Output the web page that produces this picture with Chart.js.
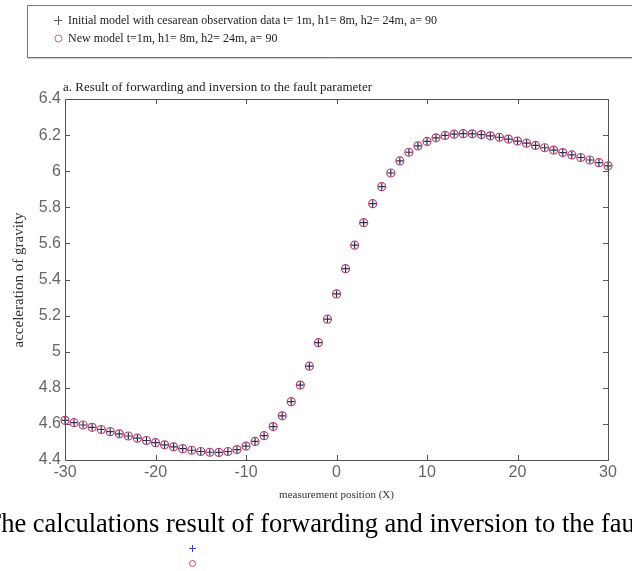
<!DOCTYPE html>
<html>
<head>
<meta charset="utf-8">
<script src="https://cdn.jsdelivr.net/npm/chart.js@4.4.1/dist/chart.umd.min.js"></script>
<style>
html,body{margin:0;padding:0;background:#fff;}
#wrap{position:relative;width:632px;height:571px;}
</style>
</head>
<body>
<div id="wrap"><canvas id="c" width="632" height="571"></canvas></div>
<script>
const positions = [-30,-29,-28,-27,-26,-25,-24,-23,-22,-21,-20,-19,-18,-17,-16,-15,-14,-13,-12,-11,-10,-9,-8,-7,-6,-5,-4,-3,-2,-1,0,1,2,3,4,5,6,7,8,9,10,11,12,13,14,15,16,17,18,19,20,21,22,23,24,25,26,27,28,29,30];
const initialModel = [4.620,4.607,4.594,4.581,4.569,4.557,4.545,4.533,4.521,4.508,4.496,4.484,4.473,4.463,4.454,4.447,4.443,4.442,4.447,4.458,4.477,4.503,4.535,4.585,4.645,4.723,4.815,4.920,5.050,5.180,5.320,5.460,5.590,5.715,5.820,5.914,5.990,6.057,6.105,6.140,6.165,6.185,6.198,6.205,6.208,6.207,6.203,6.196,6.188,6.178,6.167,6.155,6.143,6.130,6.117,6.103,6.090,6.076,6.062,6.047,6.030];
const newModel = [4.620,4.607,4.594,4.581,4.569,4.557,4.545,4.533,4.521,4.508,4.496,4.484,4.473,4.463,4.454,4.447,4.443,4.442,4.447,4.458,4.477,4.503,4.535,4.585,4.645,4.723,4.815,4.920,5.050,5.180,5.320,5.460,5.590,5.715,5.820,5.914,5.990,6.057,6.105,6.140,6.165,6.185,6.198,6.205,6.208,6.207,6.203,6.196,6.188,6.178,6.167,6.155,6.143,6.130,6.117,6.103,6.090,6.076,6.062,6.047,6.030];
const xTicks = [-30,-20,-10,0,10,20,30];
const yTicks = [4.4,4.6,4.8,5,5.2,5.4,5.6,5.8,6,6.2,6.4];
const seriesLabels = ["Initial model with cesarean observation data t= 1m, h1= 8m, h2= 24m, a= 90","New model t=1m, h1= 8m, h2= 24m, a= 90"];
const chartTitle = "a. Result of forwarding and inversion to the fault parameter";
const xTitle = "measurement position (X)";
const yTitle = "acceleration of gravity";
const caption = "The calculations result of forwarding and inversion to the fault parameter";

const crossColor = '#2e2e55';
const circleColor = '#b0406e';

const decor = {
  id: 'decor',
  afterDraw(chart) {
    const ctx = chart.ctx;
    const a = chart.chartArea;
    const xs = chart.scales.x, ys = chart.scales.y;
    ctx.save();
    ctx.strokeStyle = '#555';
    ctx.lineWidth = 1;
    ctx.strokeRect(Math.round(a.left)+0.5, Math.round(a.top)+0.5, Math.round(a.right-a.left), Math.round(a.bottom-a.top));
    ctx.beginPath();
    xTicks.forEach(v => {
      const px = Math.round(xs.getPixelForValue(v))+0.5;
      ctx.moveTo(px, a.bottom); ctx.lineTo(px, a.bottom-5);
      ctx.moveTo(px, a.top); ctx.lineTo(px, a.top+5);
    });
    yTicks.forEach(v => {
      const py = Math.round(ys.getPixelForValue(v))+0.5;
      ctx.moveTo(a.left, py); ctx.lineTo(a.left+5, py);
      ctx.moveTo(a.right, py); ctx.lineTo(a.right-5, py);
    });
    ctx.stroke();
    // title
    ctx.fillStyle = '#222';
    ctx.font = '13px "Liberation Serif"';
    ctx.textBaseline = 'alphabetic';
    ctx.textAlign = 'left';
    ctx.fillText(chartTitle, a.left - 2, a.top - 8);
    // x title
    ctx.font = '11px "Liberation Serif"';
    ctx.fillStyle = '#333';
    ctx.textAlign = 'center';
    ctx.fillText(xTitle, (a.left + a.right)/2, 498);
    // y title
    ctx.save();
    ctx.translate(18, 280);
    ctx.rotate(-Math.PI/2);
    ctx.font = '15px "Liberation Serif"';
    ctx.fillText(yTitle, 0, 5);
    ctx.restore();
    // legend box
    ctx.strokeStyle = '#777';
    ctx.lineWidth = 1;
    ctx.strokeRect(27.5, 5.5, 640, 52);
    ctx.strokeStyle = '#ccc';
    ctx.beginPath(); ctx.moveTo(28, 58.5); ctx.lineTo(640, 58.5); ctx.stroke();
    ctx.textAlign = 'left';
    ctx.font = '12px "Liberation Serif"';
    ctx.fillStyle = '#222';
    ctx.strokeStyle = '#556';
    ctx.beginPath();
    ctx.moveTo(54, 20.5); ctx.lineTo(62, 20.5);
    ctx.moveTo(58.5, 16); ctx.lineTo(58.5, 25);
    ctx.stroke();
    ctx.strokeStyle = '#c06080';
    ctx.beginPath(); ctx.arc(58.5, 38.5, 3.5, 0, Math.PI*2); ctx.stroke();
    ctx.fillText(seriesLabels[0], 68, 24);
    ctx.fillText(seriesLabels[1], 68, 42);
    // caption
    ctx.fillStyle = '#000';
    ctx.font = '26.5px "Liberation Serif"';
    const cx0 = Math.round(-ctx.measureText('T').width + 1);
    ctx.fillText(caption, cx0, 532);
    const mx = Math.round(cx0 + ctx.measureText('The calculations re').width + ctx.measureText('s').width/2) + 0.5;
    ctx.strokeStyle = '#3344cc';
    ctx.beginPath();
    ctx.moveTo(mx-3.5, 548.5); ctx.lineTo(mx+3.5, 548.5);
    ctx.moveTo(mx, 545); ctx.lineTo(mx, 552);
    ctx.stroke();
    ctx.strokeStyle = '#e04050';
    ctx.beginPath(); ctx.arc(mx, 563.5, 3, 0, Math.PI*2); ctx.stroke();
    ctx.restore();
  }
};

new Chart(document.getElementById('c'), {
  type: 'scatter',
  data: {
    datasets: [
      {
        label: seriesLabels[1],
        data: positions.map((x,i) => ({x, y: newModel[i]})),
        pointStyle: 'circle',
        pointRadius: 4,
        pointBorderWidth: 1.2,
        pointBackgroundColor: 'rgba(0,0,0,0)',
        pointBorderColor: circleColor,
        clip: false
      },
      {
        label: seriesLabels[0],
        data: positions.map((x,i) => ({x, y: initialModel[i]})),
        pointStyle: 'cross',
        pointRadius: 3.5,
        pointBorderWidth: 1.2,
        pointBorderColor: crossColor,
        clip: false
      }
    ]
  },
  options: {
    responsive: false,
    animation: false,
    events: [],
    layout: { padding: { left: 0, top: 99, right: 24, bottom: 0 } },
    plugins: { legend: { display: false }, title: { display: false }, tooltip: { enabled: false } },
    scales: {
      x: {
        type: 'linear', min: -30, max: 30,
        afterFit(s) { s.height = 111; },
        afterBuildTicks(s) { s.ticks = xTicks.map(v => ({value: v})); },
        grid: { display: false, drawTicks: false },
        border: { display: false },
        ticks: { padding: 3, color: '#666', font: { family: 'Liberation Sans', size: 16 }, callback: v => String(v) }
      },
      y: {
        type: 'linear', min: 4.4, max: 6.4,
        afterFit(s) { s.width = 65; },
        afterBuildTicks(s) { s.ticks = yTicks.map(v => ({value: v})); },
        grid: { display: false, drawTicks: false },
        border: { display: false },
        ticks: { padding: 4, color: '#666', font: { family: 'Liberation Sans', size: 16 }, callback: v => String(+Number(v).toFixed(1)) }
      }
    }
  },
  plugins: [decor]
});
</script>
</body>
</html>
